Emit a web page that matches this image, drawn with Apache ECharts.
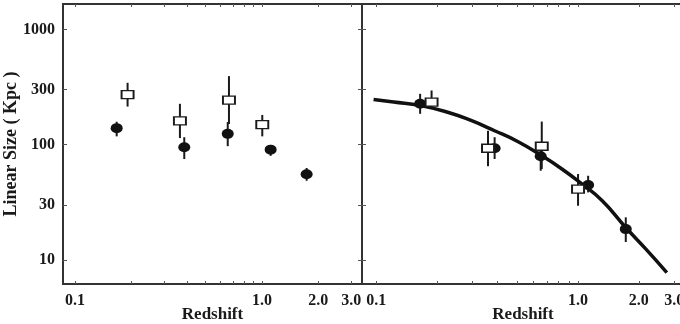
<!DOCTYPE html>
<html>
<head>
<meta charset="utf-8">
<script src="https://cdn.jsdelivr.net/npm/echarts@6/dist/echarts.min.js"></script>
<style>html,body{margin:0;padding:0;background:#fff}#chart{width:680px;height:324px}</style>
</head>
<body>
<div id="chart"></div>
<script>
// left panel (sizes in Kpc, with error bar ends)
const leftFilledZ = [0.167, 0.384, 0.656, 1.113, 1.734];
const leftFilledSize = [139, 95, 124, 90.5, 55.3];
const leftFilledLo = [118, 75, 97, 80, 48.6];
const leftFilledHi = [158, 116, 157, 99.4, 62.7];
const leftOpenZ = [0.191, 0.364, 0.666, 1.004];
const leftOpenSize = [272, 161, 243, 149];
const leftOpenLo = [214, 114, 151, 118];
const leftOpenHi = [344, 226, 393, 181];

// right panel
const rightFilledZ = [0.165, 0.386, 0.653, 1.122, 1.724];
const rightFilledSize = [226, 93, 79.3, 44.6, 18.5];
const rightFilledLo = [185, 75, 59.4, 38.5, 14.3];
const rightFilledHi = [276, 116, 101.4, 53.7, 23.4];
const rightOpenZ = [0.188, 0.358, 0.661, 1.0];
const rightOpenSize = [234, 93, 96.8, 41.2];
const rightOpenLo = [204, 65, 61.5, 29.5];
const rightOpenHi = [295, 132, 158.5, 55.6];

// fitted curve
const fitZ = [0.097, 0.122, 0.166, 0.226, 0.295, 0.386, 0.505, 0.661, 0.832, 1.047, 1.318, 1.724, 2.17, 2.754];
const fitSize = [246, 234, 218, 191, 162, 132, 106, 80.2, 61.5, 45.5, 32.6, 19.1, 12.4, 7.77];

const xLabelValues = [0.1, 1, 2, 3];
const xTickValues = [0.1, 0.2, 0.3, 0.4, 0.5, 0.6, 0.7, 0.8, 0.9, 1, 2, 3];
const yLabelValues = [10, 30, 100, 300, 1000];

const chart = echarts.init(document.getElementById('chart'));
const font = 'Liberation Serif';
const ink = '#1a1a1a';

const xRange = [[0.0862, 3.43], [0.085, 3.35]];
const yMin = 6.18, yMax = 1660;

function xAxis(idx, pos) {
  const bottom = pos === 'bottom';
  return {
    type: 'log', gridIndex: idx, position: pos,
    min: xRange[idx][0], max: xRange[idx][1],
    name: bottom ? 'Redshift' : '', nameLocation: 'middle', nameGap: 22, nameMoveOverlap: false,
    nameTextStyle: { fontFamily: font, fontWeight: 'bold', fontSize: 17, color: ink },
    axisLine: { show: false },
    axisTick: { show: true, inside: true, length: 3, customValues: xTickValues, lineStyle: { color: '#555' } },
    axisLabel: {
      show: bottom, customValues: xLabelValues, margin: 9,
      fontFamily: font, fontWeight: 'bold', fontSize: 16, color: ink,
      formatter: v => Number(v).toFixed(1)
    },
    splitLine: { show: false }
  };
}

function yAxis(idx, pos) {
  const withLabel = idx === 0 && pos === 'left';
  return {
    type: 'log', gridIndex: idx, position: pos,
    min: yMin, max: yMax,
    name: withLabel ? 'Linear Size ( Kpc )' : '', nameLocation: 'middle', nameGap: 43, nameMoveOverlap: false,
    nameTextStyle: { fontFamily: font, fontWeight: 'bold', fontSize: 18, color: ink },
    axisLine: { show: false },
    axisTick: { show: true, inside: true, length: 4, customValues: yLabelValues, lineStyle: { color: '#555' } },
    axisLabel: {
      show: withLabel, customValues: yLabelValues, margin: 8,
      fontFamily: font, fontWeight: 'bold', fontSize: 16, color: ink,
      formatter: v => String(Math.round(v))
    },
    splitLine: { show: false }
  };
}

function errorBars(idx, zs, lo, hi) {
  return {
    type: 'custom', xAxisIndex: idx, yAxisIndex: idx, z: 2,
    encode: { x: 0, y: [1, 2] },
    data: zs.map((z, i) => [z, lo[i], hi[i]]),
    renderItem: (params, api) => {
      const a = api.coord([api.value(0), api.value(1)]);
      const b = api.coord([api.value(0), api.value(2)]);
      return { type: 'line', shape: { x1: a[0], y1: a[1], x2: b[0], y2: b[1] }, style: { stroke: ink, lineWidth: 2 } };
    }
  };
}

function filled(idx, zs, sizes) {
  return {
    type: 'scatter', xAxisIndex: idx, yAxisIndex: idx, z: 4,
    data: zs.map((z, i) => [z, sizes[i]]),
    symbol: 'circle', symbolSize: [12, 10],
    itemStyle: { color: '#111', opacity: 1 }
  };
}

function open(idx, zs, sizes) {
  return {
    type: 'scatter', xAxisIndex: idx, yAxisIndex: idx, z: 5,
    data: zs.map((z, i) => [z, sizes[i]]),
    symbol: 'rect', symbolSize: [12, 8],
    itemStyle: { color: '#fff', borderColor: ink, borderWidth: 1.6, opacity: 1 }
  };
}

chart.setOption({
  animation: false,
  backgroundColor: '#fff',
  grid: [
    { left: 63, top: 4, width: 299, height: 280, outerBoundsMode: 'none', containLabel: false,
      show: true, borderColor: '#333', borderWidth: 2, backgroundColor: 'transparent' },
    { left: 362, top: 4, width: 322, height: 280, outerBoundsMode: 'none', containLabel: false,
      show: true, borderColor: '#333', borderWidth: 2, backgroundColor: 'transparent' }
  ],
  xAxis: [xAxis(0, 'bottom'), xAxis(1, 'bottom'), xAxis(0, 'top'), xAxis(1, 'top')],
  yAxis: [yAxis(0, 'left'), yAxis(1, 'left'), yAxis(0, 'right'), yAxis(1, 'right')],
  series: [
    errorBars(0, leftFilledZ, leftFilledLo, leftFilledHi),
    errorBars(0, leftOpenZ, leftOpenLo, leftOpenHi),
    filled(0, leftFilledZ, leftFilledSize),
    open(0, leftOpenZ, leftOpenSize),
    {
      type: 'line', xAxisIndex: 1, yAxisIndex: 1, z: 3,
      data: fitZ.map((z, i) => [z, fitSize[i]]),
      smooth: true, symbol: 'none',
      lineStyle: { color: '#111', width: 3.5 }
    },
    errorBars(1, rightFilledZ, rightFilledLo, rightFilledHi),
    errorBars(1, rightOpenZ, rightOpenLo, rightOpenHi),
    filled(1, rightFilledZ, rightFilledSize),
    open(1, rightOpenZ, rightOpenSize)
  ]
});
</script>
</body>
</html>
